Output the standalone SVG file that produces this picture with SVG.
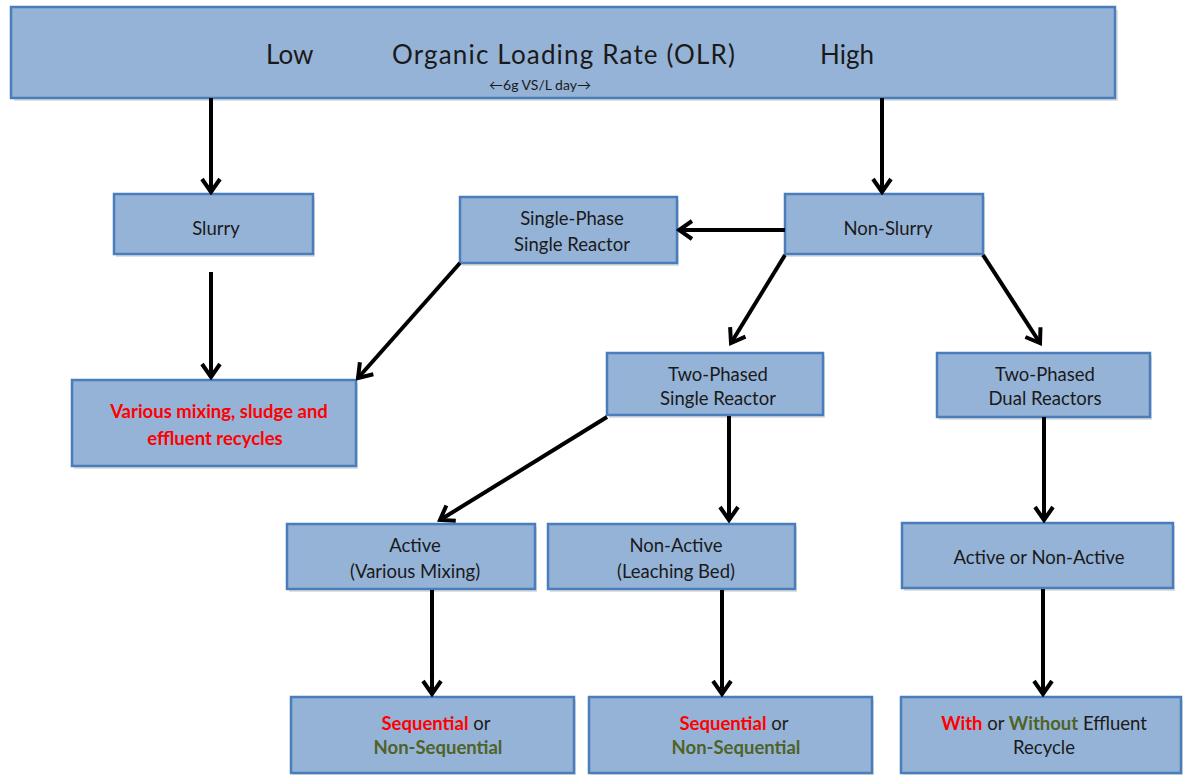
<svg xmlns="http://www.w3.org/2000/svg" width="1183" height="775" viewBox="0 0 1183 775">
<defs>
<marker id="arr" viewBox="0 0 18 22" refX="15" refY="11" markerWidth="18" markerHeight="22" markerUnits="userSpaceOnUse" orient="auto">
<path d="M2,2 L15,11 L2,20" fill="none" stroke="#000" stroke-width="4"/>
</marker>
</defs>
<style>
.box{fill:#95b3d7;stroke:#4a7ebb;stroke-width:2.5}
.sh{fill:#000;opacity:0.12}
text{font-family:Lato,"Open Sans","Liberation Sans",sans-serif;fill:#1a1a1a}
.t{font-size:18.5px;text-anchor:middle}
.red{fill:#ff0000;font-weight:bold}
.grn{fill:#4f6228;font-weight:bold}
.con line{stroke:#000;stroke-width:4;marker-end:url(#arr)}
</style>
<rect width="1183" height="775" fill="#fff"/>
<g id="top">
<rect class="sh" x="14" y="10" width="1104" height="91"/>
<rect class="box" x="11" y="7" width="1104" height="91"/>
<text x="266" y="64" font-size="26">Low</text>
<text x="392" y="64" font-size="26" textLength="343">Organic Loading Rate (OLR)</text>
<text x="820" y="64" font-size="26">High</text>
<text x="540" y="90" font-size="14" text-anchor="middle">←6g VS/L day→</text>
</g>
<g id="slurry">
<rect class="sh" x="116" y="197" width="199" height="60"/>
<rect class="box" x="114" y="194" width="199" height="60"/>
<text class="t" x="216" y="235">Slurry</text>
</g>
<g id="nonslurry">
<rect class="sh" x="787" y="197" width="198" height="60"/>
<rect class="box" x="785" y="194" width="198" height="60"/>
<text class="t" x="888" y="235">Non-Slurry</text>
</g>
<g id="singlephase">
<rect class="sh" x="462" y="200" width="217" height="66"/>
<rect class="box" x="460" y="197" width="217" height="66"/>
<text class="t" x="572" y="225">Single-Phase</text>
<text class="t" x="572" y="251">Single Reactor</text>
</g>
<g id="various">
<rect class="sh" x="74" y="383" width="284" height="86"/>
<rect class="box" x="72" y="380" width="284" height="86"/>
<text class="t red" x="219" y="418">Various mixing, sludge and</text>
<text class="t red" x="215" y="445">effluent recycles</text>
</g>
<g id="twophasedsingle">
<rect class="sh" x="609" y="356" width="216" height="62"/>
<rect class="box" x="607" y="353" width="216" height="62"/>
<text class="t" x="718" y="381">Two-Phased</text>
<text class="t" x="718" y="405">Single Reactor</text>
</g>
<g id="twophaseddual">
<rect class="sh" x="939" y="356" width="213" height="64"/>
<rect class="box" x="937" y="353" width="213" height="64"/>
<text class="t" x="1045" y="381">Two-Phased</text>
<text class="t" x="1045" y="405">Dual Reactors</text>
</g>
<g id="active">
<rect class="sh" x="289" y="527" width="248" height="65"/>
<rect class="box" x="287" y="524" width="248" height="65"/>
<text class="t" x="415" y="552">Active</text>
<text class="t" x="415" y="578">(Various Mixing)</text>
</g>
<g id="nonactive">
<rect class="sh" x="550" y="527" width="247" height="65"/>
<rect class="box" x="548" y="524" width="247" height="65"/>
<text class="t" x="676" y="552">Non-Active</text>
<text class="t" x="676" y="578">(Leaching Bed)</text>
</g>
<g id="activeornon">
<rect class="sh" x="904" y="526" width="271" height="65"/>
<rect class="box" x="902" y="523" width="271" height="65"/>
<text class="t" x="1039" y="564">Active or Non-Active</text>
</g>
<g id="seq1">
<rect class="sh" x="293" y="700" width="283" height="76"/>
<rect class="box" x="291" y="697" width="283" height="76"/>
<text class="t" x="436" y="730"><tspan class="red">Sequential</tspan> or</text>
<text class="t grn" x="438" y="754">Non-Sequential</text>
</g>
<g id="seq2">
<rect class="sh" x="591" y="700" width="283" height="76"/>
<rect class="box" x="589" y="697" width="283" height="76"/>
<text class="t" x="734" y="730"><tspan class="red">Sequential</tspan> or</text>
<text class="t grn" x="736" y="754">Non-Sequential</text>
</g>
<g id="recycle">
<rect class="sh" x="903" y="700" width="283" height="76"/>
<rect class="box" x="901" y="697" width="280" height="76"/>
<text class="t" x="1044" y="730"><tspan class="red">With</tspan> or <tspan class="grn">Without</tspan> Effluent</text>
<text class="t" x="1044" y="754">Recycle</text>
</g>
<g id="connectors" class="con">
<line x1="211" y1="98" x2="211" y2="192"/>
<line x1="882" y1="98" x2="882" y2="192"/>
<line x1="211" y1="272" x2="211" y2="377"/>
<line x1="785" y1="230" x2="679" y2="230"/>
<line x1="460" y1="263" x2="358" y2="378"/>
<line x1="785" y1="255" x2="731" y2="343"/>
<line x1="983" y1="255" x2="1040" y2="343"/>
<line x1="607" y1="417" x2="440" y2="520"/>
<line x1="729" y1="416" x2="729" y2="520"/>
<line x1="1044" y1="417" x2="1044" y2="520"/>
<line x1="432" y1="590" x2="432" y2="694"/>
<line x1="722" y1="590" x2="722" y2="694"/>
<line x1="1043" y1="589" x2="1043" y2="694"/>
</g>
</svg>
